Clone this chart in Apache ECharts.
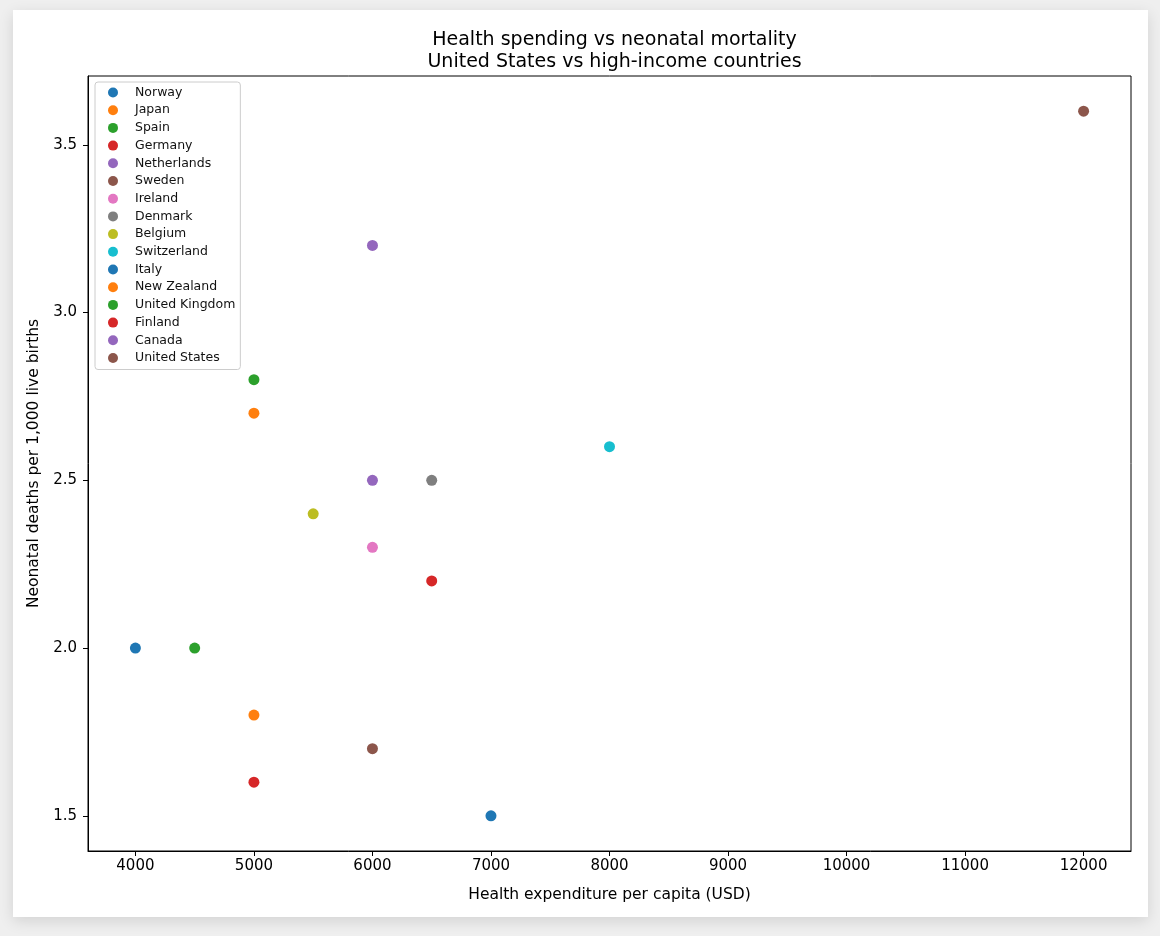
<!doctype html>
<html lang="en">
<head>
    <meta charset="UTF-8">
    <title>Health spending vs neonatal mortality</title>
    <script type="text/javascript" src="https://cdn.jsdelivr.net/npm/echarts@6/dist/echarts.min.js"></script>
    <style>
        html, body { margin: 0; padding: 0; background: #efefef; }
        #card {
            position: absolute; left: 13px; top: 10px; width: 1135px; height: 907px;
            background: #fff; box-shadow: 0 4px 14px rgba(0, 0, 0, 0.12);
        }
        #container { position: absolute; left: 0; top: 0; width: 1160px; height: 936px; }
    </style>
</head>
<body>
<div id="card"></div>
<div id="container"></div>
<script type="text/javascript">

    var countries = ['Norway', 'Japan', 'Spain', 'Germany', 'Netherlands', 'Sweden', 'Ireland', 'Denmark',
        'Belgium', 'Switzerland', 'Italy', 'New Zealand', 'United Kingdom', 'Finland', 'Canada', 'United States'];
    var spending = [7000, 5000, 4500, 6500, 6000, 6000, 6000, 6500, 5500, 8000, 4000, 5000, 5000, 5000, 6000, 12000];
    var mortality = [1.5, 1.8, 2.0, 2.2, 2.5, 1.7, 2.3, 2.5, 2.4, 2.6, 2.0, 2.7, 2.8, 1.6, 3.2, 3.6];
    var xTicks = [4000, 5000, 6000, 7000, 8000, 9000, 10000, 11000, 12000];
    var yTicks = [1.5, 2.0, 2.5, 3.0, 3.5];
    var tab10 = ['#1f77b4', '#ff7f0e', '#2ca02c', '#d62728', '#9467bd', '#8c564b', '#e377c2', '#7f7f7f', '#bcbd22', '#17becf'];

    var font = 'DejaVu Sans';
    var myChart = echarts.init(document.getElementById('container'));

    var series = [];
    for (var i = 0; i < countries.length; i++) {
        series.push({
            name: countries[i],
            type: 'scatter',
            data: [[spending[i], mortality[i]]],
            symbolSize: 11,
            itemStyle: { color: tab10[i % 10], opacity: 1 }
        });
    }

    var option = {
        animation: false,
        textStyle: { fontFamily: font },
        title: {
            text: 'Health spending vs neonatal mortality\nUnited States vs high-income countries',
            left: 609.5,
            textAlign: 'center',
            top: 24,
            textStyle: { fontFamily: font, fontSize: 19, fontWeight: 'normal', color: '#000', lineHeight: 22 }
        },
        legend: {
            orient: 'vertical',
            left: 95,
            top: 82,
            padding: [4, 5, 5, 13],
            itemGap: 4.7,
            itemWidth: 24,
            itemHeight: 10,
            icon: 'circle',
            borderColor: '#cccccc',
            borderWidth: 1,
            borderRadius: 3,
            backgroundColor: 'rgba(255,255,255,0.8)',
            textStyle: { fontFamily: font, fontSize: 12.5, color: '#111', lineHeight: 12, padding: [0, 0, 0, 5] },
            data: countries
        },
        grid: {
            left: 88, top: 76, width: 1043, height: 775,
            show: true, borderColor: '#000', borderWidth: 1, backgroundColor: 'transparent'
        },
        xAxis: {
            type: 'value',
            min: 3600,
            max: 12400,
            name: 'Health expenditure per capita (USD)',
            nameLocation: 'middle',
            nameGap: 36,
            nameTextStyle: { fontFamily: font, fontSize: 15.5, color: '#000' },
            axisLine: { show: true, lineStyle: { color: '#000', width: 1 } },
            axisTick: { show: true, length: 5, customValues: xTicks, lineStyle: { color: '#000' } },
            axisLabel: {
                customValues: xTicks, fontFamily: font, fontSize: 15, color: '#000', margin: 8,
                formatter: function (v) { return String(v); }
            },
            splitLine: { show: false }
        },
        yAxis: {
            type: 'value',
            min: 1.395,
            max: 3.705,
            name: 'Neonatal deaths per 1,000 live births',
            nameLocation: 'middle',
            nameGap: 41,
            nameTextStyle: { fontFamily: font, fontSize: 15.5, color: '#000' },
            axisLine: { show: true, lineStyle: { color: '#000', width: 1 } },
            axisTick: { show: true, length: 5, customValues: yTicks, lineStyle: { color: '#000' } },
            axisLabel: {
                customValues: yTicks, fontFamily: font, fontSize: 15, color: '#000', margin: 11,
                formatter: function (v) { return v.toFixed(1); }
            },
            splitLine: { show: false }
        },
        series: series
    };

    myChart.setOption(option, true);

</script>
</body>
</html>
